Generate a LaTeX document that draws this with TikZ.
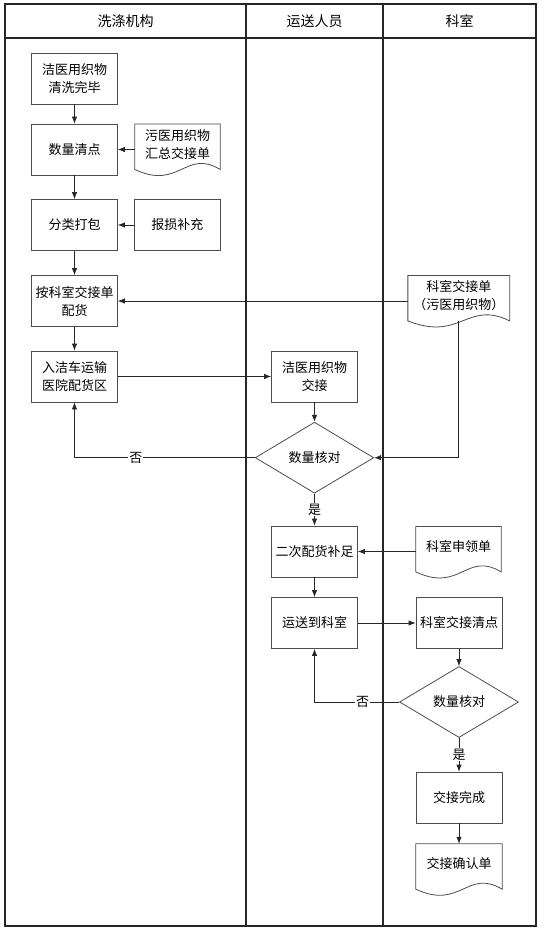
\documentclass[tikz,border=0pt]{standalone}
\usepackage{fontspec}
\setmainfont{Noto Sans CJK SC}
\usetikzlibrary{arrows.meta,shapes.geometric,calc}
\newcommand{\fs}{\fontsize{13pt}{18pt}\selectfont}
\newcommand{\hfs}{\fontsize{14pt}{18pt}\selectfont}
% document shape: node spans top .. top+40, wavy base 5 below node's south
\newcommand{\docshape}[1]{%
  \coordinate (#1b) at ($(#1.south)+(0,5)$);
  \draw[docline] (#1.north west) -- (#1.north east) -- ($(#1.south east)+(0,5)$)
    .. controls ($(#1b)+(8,-21)$) and ($(#1b)+(2,21)$) .. ($(#1.south west)+(0,5)$) -- cycle;}
\begin{document}
\begin{tikzpicture}[x=1pt,y=-1pt,
  lane/.style={draw=black!85, line width=1.3pt},
  box/.style={rectangle, draw=black!70, line width=0.8pt, minimum width=86pt, minimum height=51pt, inner sep=0pt, align=center, font=\fs, text=black},
  docnode/.style={rectangle, minimum height=40pt, inner sep=0pt, align=center, font=\fs, text=black},
  docline/.style={draw=black!70, line width=0.8pt},
  dec/.style={diamond, draw=black!70, line width=0.8pt, minimum width=118.5pt, minimum height=71pt, aspect=1.67, inner sep=0pt, font=\fs, text=black},
  arr/.style={draw=black!85, line width=0.8pt, -{Latex[length=7pt,width=5.5pt]}},
  lbl/.style={fill=white, inner sep=1pt, font=\fs, text=black},
  hdr/.style={font=\hfs, text=black, inner sep=0pt}]
\useasboundingbox (0,0) rectangle (543,933);
% swimlanes
\draw[lane] (5,4) rectangle (536,926);
\draw[lane] (5,38) -- (536,38);
\draw[lane] (246,4) -- (246,926);
\draw[lane] (383,4) -- (383,926);
\node[hdr] (h1) at (125.5,21) {洗涤机构};
\node[hdr] (h2) at (314.5,21) {运送人员};
\node[hdr] (h3) at (459.5,21) {科室};
% nodes
\node[box] (A) at (74.5,78.5) {洁医用织物\\清洗完毕};
\node[box] (B) at (74.5,149.5) {数量清点};
\node[docnode, minimum width=85pt] (C) at (177.5,144.3) {污医用织物\\汇总交接单};
\node[box] (D) at (74.5,225) {分类打包};
\node[box, minimum width=85.5pt] (E) at (177.3,225) {报损补充};
\node[box] (F) at (74.5,301) {按科室交接单\\配货};
\node[docnode, minimum width=101.5pt] (G) at (458.8,295.7) {科室交接单\\（污医用织物）};
\node[box] (H) at (74.5,376.5) {入洁车运输\\医院配货区};
\node[box] (I) at (314.5,376.5) {洁医用织物\\交接};
\node[dec] (J) at (314.5,457.7) {数量核对};
\node[box] (K) at (314.5,551.5) {二次配货补足};
\node[docnode, minimum width=85pt] (L) at (458.5,546.7) {科室申领单};
\node[box] (M) at (314.5,623) {运送到科室};
\node[box] (N) at (459,623) {科室交接清点};
\node[dec, minimum width=119pt] (O) at (459,702) {数量核对};
\node[box] (P) at (459,797.5) {交接完成};
\node[docnode, minimum width=86pt] (Q) at (459,864) {交接确认单};
\docshape{C}
\docshape{G}
\docshape{L}
\docshape{Q}
% connectors
\draw[arr] (A) -- (B);
\draw[arr] (C.west |- B.east) -- (B.east);
\draw[arr] (B) -- (D);
\draw[arr] (E) -- (D);
\draw[arr] (D) -- (F);
\draw[arr] (G.west |- F.east) -- (F.east);
\draw[arr] (F) -- (H);
\draw[arr] (H) -- (I);
\draw[arr] (I) -- (J);
\draw[arr] (Gb) |- (J.east);
\draw[arr] (J.west) -| node[lbl, pos=0.33] {否} (H.south);
\draw[arr] (J.south) -- node[lbl] {是} (K.north);
\draw[arr] (L.west |- K.east) -- (K.east);
\draw[arr] (K) -- (M);
\draw[arr] (M) -- (N);
\draw[arr] (N) -- (O);
\draw[arr] (O.west) -| node[lbl, pos=0.216] {否} (M.south);
\draw[arr] (O.south) -- node[lbl] {是} (P.north);
\draw[arr] (P) -- (Q);
\end{tikzpicture}
\end{document}
